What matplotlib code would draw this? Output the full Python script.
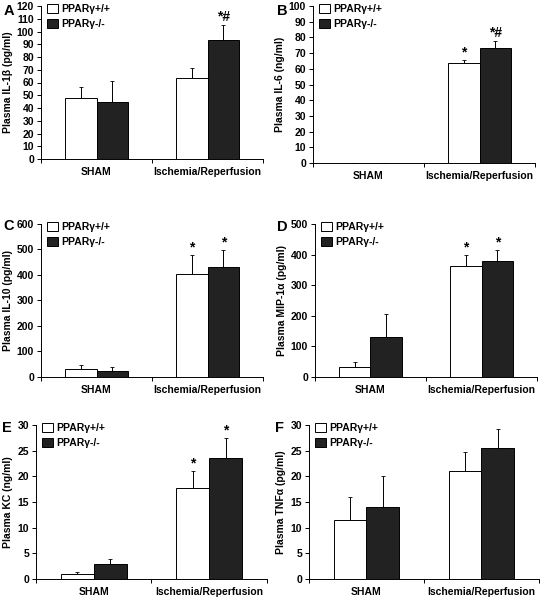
import matplotlib.pyplot as plt
import numpy as np

plt.rcParams['font.family'] = ['Liberation Sans', 'DejaVu Sans']
plt.rcParams['font.weight'] = 'bold'

groups = ["SHAM", "Ischemia/Reperfusion"]
legend_labels = ["PPARγ+/+", "PPARγ-/-"]

# panel A: IL-1beta
il1b_wt = [47.5, 63.5]
il1b_wt_err = [9, 7.5]
il1b_ko = [45, 93]
il1b_ko_err = [16, 12]
il1b_marks = [["", ""], ["", "*#"]]

# panel B: IL-6
il6_wt = [0.3, 63.5]
il6_wt_err = [0, 2]
il6_ko = [0.3, 73]
il6_ko_err = [0, 5]
il6_marks = [["", ""], ["*", "*#"]]

# panel C: IL-10
il10_wt = [30, 405]
il10_wt_err = [18, 73]
il10_ko = [25, 430]
il10_ko_err = [13, 68]
il10_marks = [["", ""], ["*", "*"]]

# panel D: MIP-1alpha
mip_wt = [32, 363]
mip_wt_err = [18, 35]
mip_ko = [132, 380]
mip_ko_err = [73, 35]
mip_marks = [["", ""], ["*", "*"]]

# panel E: KC
kc_wt = [1.0, 17.7]
kc_wt_err = [0.4, 3.3]
kc_ko = [2.9, 23.5]
kc_ko_err = [0.9, 4.0]
kc_marks = [["", ""], ["*", "*"]]

# panel F: TNFalpha
tnf_wt = [11.5, 21.1]
tnf_wt_err = [4.5, 3.7]
tnf_ko = [14, 25.6]
tnf_ko_err = [6, 3.7]
tnf_marks = [["", ""], ["", ""]]

fig = plt.figure(figsize=(5.43, 6.0), dpi=100)

# letter, axes rect, letter position (fig px), data..., ylabel, ymax, ystep
panels = [
    ("A", [0.0755, 0.735, 0.409, 0.255], (9, 11), il1b_wt, il1b_wt_err, il1b_ko, il1b_ko_err,
     il1b_marks, "Plasma IL-1β (pg/ml)", 120, 10),
    ("B", [0.5764, 0.7283, 0.409, 0.2617], (282, 11), il6_wt, il6_wt_err, il6_ko, il6_ko_err,
     il6_marks, "Plasma IL-6 (ng/ml)", 100, 10),
    ("C", [0.0755, 0.3717, 0.409, 0.255], (9, 226), il10_wt, il10_wt_err, il10_ko, il10_ko_err,
     il10_marks, "Plasma IL-10 (pg/ml)", 600, 100),
    ("D", [0.580, 0.3717, 0.409, 0.255], (282, 227), mip_wt, mip_wt_err, mip_ko, mip_ko_err,
     mip_marks, "Plasma MIP-1α (pg/ml)", 500, 100),
    ("E", [0.0663, 0.035, 0.425, 0.2567], (7, 428), kc_wt, kc_wt_err, kc_ko, kc_ko_err,
     kc_marks, "Plasma KC (ng/ml)", 30, 5),
    ("F", [0.569, 0.035, 0.423, 0.2567], (280, 428), tnf_wt, tnf_wt_err, tnf_ko, tnf_ko_err,
     tnf_marks, "Plasma TNFα (pg/ml)", 30, 5),
]

bw = 0.285
x = np.arange(len(groups))

for letter, rect, lpos, wt, wt_err, ko, ko_err, marks, ylabel, ymax, ystep in panels:
    ax = fig.add_axes(rect)
    ax.bar(x - bw / 2, wt, bw, color="white", edgecolor="black", linewidth=0.7,
           label=legend_labels[0], zorder=2)
    ax.bar(x + bw / 2, ko, bw, color="#222222", edgecolor="black", linewidth=0.7,
           label=legend_labels[1], zorder=2)
    ax.errorbar(x - bw / 2, wt, yerr=[np.zeros(2), wt_err], fmt="none", ecolor="black",
                elinewidth=0.7, capsize=1.2, capthick=0.6, zorder=1)
    ax.errorbar(x + bw / 2, ko, yerr=[np.zeros(2), ko_err], fmt="none", ecolor="black",
                elinewidth=0.7, capsize=1.2, capthick=0.6, zorder=1)
    # significance marks
    for i in range(len(groups)):
        m_wt, m_ko = marks[i]
        if m_wt:
            ax.text(x[i] - bw / 2, wt[i] + wt_err[i] + ymax * 0.005, m_wt,
                    ha="center", va="bottom", fontsize=10)
        if m_ko:
            ax.text(x[i] + bw / 2, ko[i] + ko_err[i] + ymax * 0.005, m_ko,
                    ha="center", va="bottom", fontsize=10)

    ax.set_xlim(-0.5, 1.5)
    ax.set_ylim(0, ymax)
    ax.set_yticks(np.arange(0, ymax + ystep / 2, ystep))
    ax.set_xticks([-0.5, 0.5, 1.5])
    ax.set_xticklabels([])
    ax.set_xticks(x, minor=True)
    ax.set_xticklabels(groups, minor=True)
    ax.tick_params(axis="x", which="minor", length=0, pad=6, labelsize=7.5)
    ax.tick_params(axis="x", which="major", length=3, width=0.7)
    ax.tick_params(axis="y", length=3, width=0.7, labelsize=7.5, pad=2)
    for lab in ax.get_yticklabels() + ax.get_xticklabels(minor=True):
        lab.set_fontweight("bold")
    ax.spines["top"].set_visible(False)
    ax.spines["right"].set_visible(False)
    ax.spines["left"].set_linewidth(0.7)
    ax.spines["bottom"].set_linewidth(0.7)
    ax.set_ylabel(ylabel, fontsize=7.5, fontweight="bold", labelpad=3)
    ax.legend(loc="upper left", bbox_to_anchor=(0.01, 1.04), frameon=False, fontsize=7.5,
              handlelength=1.0, handleheight=1.0, handletextpad=0.3, labelspacing=0.45,
              borderaxespad=0)
    fig.text(lpos[0] / 543, 1 - lpos[1] / 600, letter, fontsize=10.5, fontweight="bold",
             ha="center", va="center")

fig.savefig("out.png", dpi=100)
